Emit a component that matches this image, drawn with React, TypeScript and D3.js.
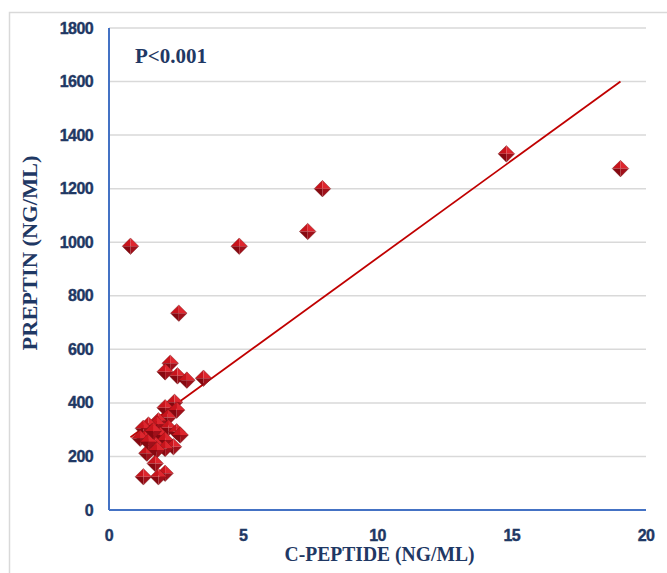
import React from "react";
import * as d3 from "d3";

const cPeptide = [
  2.28, 2.09, 2.55, 2.9, 3.52,
  2.44, 2.09, 2.52, 2.19, 1.84, 1.78, 1.47, 1.28, 2.21, 2.52, 1.59, 1.9, 2.65,
  1.34, 2.09, 1.72, 2.4, 1.41, 2.09, 1.78, 1.72, 2.09, 1.84, 1.28, 1.16, 1.47, 1.65,
  0.8, 4.85, 7.4, 7.95, 14.8, 19.05, 2.6,
];
const preptin = [
  548, 516, 501, 485, 492,
  402, 382, 373, 345, 333, 320, 317, 305, 307, 292, 292, 280, 280,
  268, 261, 245, 236, 212, 230, 224, 174, 137, 124, 124, 268, 255, 295,
  985, 985, 1040, 1200, 1330, 1275, 735,
];
const trendX = [0.8, 19.05];
const trendY = [272, 1600];
const xTicks = [0, 5, 10, 15, 20];
const yTicks = [0, 200, 400, 600, 800, 1000, 1200, 1400, 1600, 1800];
const xTitle = "C-PEPTIDE (NG/ML)";
const yTitle = "PREPTIN (NG/ML)";
const pLabel = "P<0.001";

const W = 667;
const H = 573;
const left = 109;
const right = 646;
const top = 28;
const bottom = 510;
const navy = "#1f3864";
const tickFont = "'Liberation Sans', Arial, sans-serif";
const serif = "'Liberation Serif', 'Times New Roman', serif";

export default function App() {
  const x = d3.scaleLinear().domain([0, 20]).range([left, right]);
  const y = d3.scaleLinear().domain([0, 1800]).range([bottom, top]);
  const line = d3.line<number>().x((d) => x(trendX[d])).y((d) => y(trendY[d]));
  const s = 8.3;
  return (
    <div style={{ position: "absolute", left: 0, top: 0 }}>
      <svg width={W} height={H} style={{ display: "block" }}>
        <rect x={0} y={0} width={W} height={H} fill="#fff" />
        <rect x={9.5} y={12.5} width={700} height={600} fill="none" stroke="#d9d9d9" strokeWidth={1.5} />
        {yTicks.map((t) => (
          <line key={"g" + t} x1={left} x2={right} y1={y(t)} y2={y(t)} stroke="#d9d9d9" strokeWidth={1.5} />
        ))}
        <line x1={left} x2={left} y1={top} y2={bottom} stroke="#4472c4" strokeWidth={2} />
        <line x1={left} x2={right} y1={bottom} y2={bottom} stroke="#4472c4" strokeWidth={2} />
        {yTicks.map((t) => (
          <text key={"yl" + t} x={93} y={y(t)} dy="0.35em" textAnchor="end" fontFamily={tickFont}
            fontWeight="bold" fontSize={16} fill={navy} stroke={navy} strokeWidth={0.4} letterSpacing={-0.6}>{t}</text>
        ))}
        {xTicks.map((t) => (
          <text key={"xl" + t} x={x(t)} y={535} dy="0.35em" textAnchor="middle" fontFamily={tickFont}
            fontWeight="bold" fontSize={16} fill={navy} stroke={navy} strokeWidth={0.4} letterSpacing={-0.6}>{t}</text>
        ))}
        <text x={(left + right) / 2 + 2} y={554} dy="0.35em" textAnchor="middle" fontFamily={serif}
          fontWeight="bold" fontSize={20} fill={navy} textLength={190} lengthAdjust="spacingAndGlyphs">{xTitle}</text>
        <text transform={`translate(30,253) rotate(-90)`} dy="0.35em" textAnchor="middle" fontFamily={serif}
          fontWeight="bold" fontSize={20} fill={navy} textLength={195} lengthAdjust="spacingAndGlyphs">{yTitle}</text>
        <text x={135} y={56} dy="0.35em" fontFamily={serif} fontWeight="bold" fontSize={21} fill={navy}>{pLabel}</text>
        <path d={line([0, 1]) || ""} stroke="#c00000" strokeWidth={1.8} fill="none" />
        {cPeptide.map((cx, i) => {
          const px = x(cx);
          const py = y(preptin[i]);
          return (
            <g key={"p" + i} transform={`translate(${px},${py})`}>
              <path d={`M0,${-s}L${-s},0L0,0Z`} fill="#c8141c" />
              <path d={`M0,${-s}L${s},0L0,0Z`} fill="#de262e" />
              <path d={`M${-s},0L0,${s}L0,0Z`} fill="#860810" />
              <path d={`M${s},0L0,${s}L0,0Z`} fill="#a0101a" />
              <path d={`M0,${-s}L${s},0L0,${s}L${-s},0Z`} fill="none" stroke="#6a1414" strokeWidth={0.6} strokeOpacity={0.6} />
            </g>
          );
        })}
      </svg>
    </div>
  );
}
